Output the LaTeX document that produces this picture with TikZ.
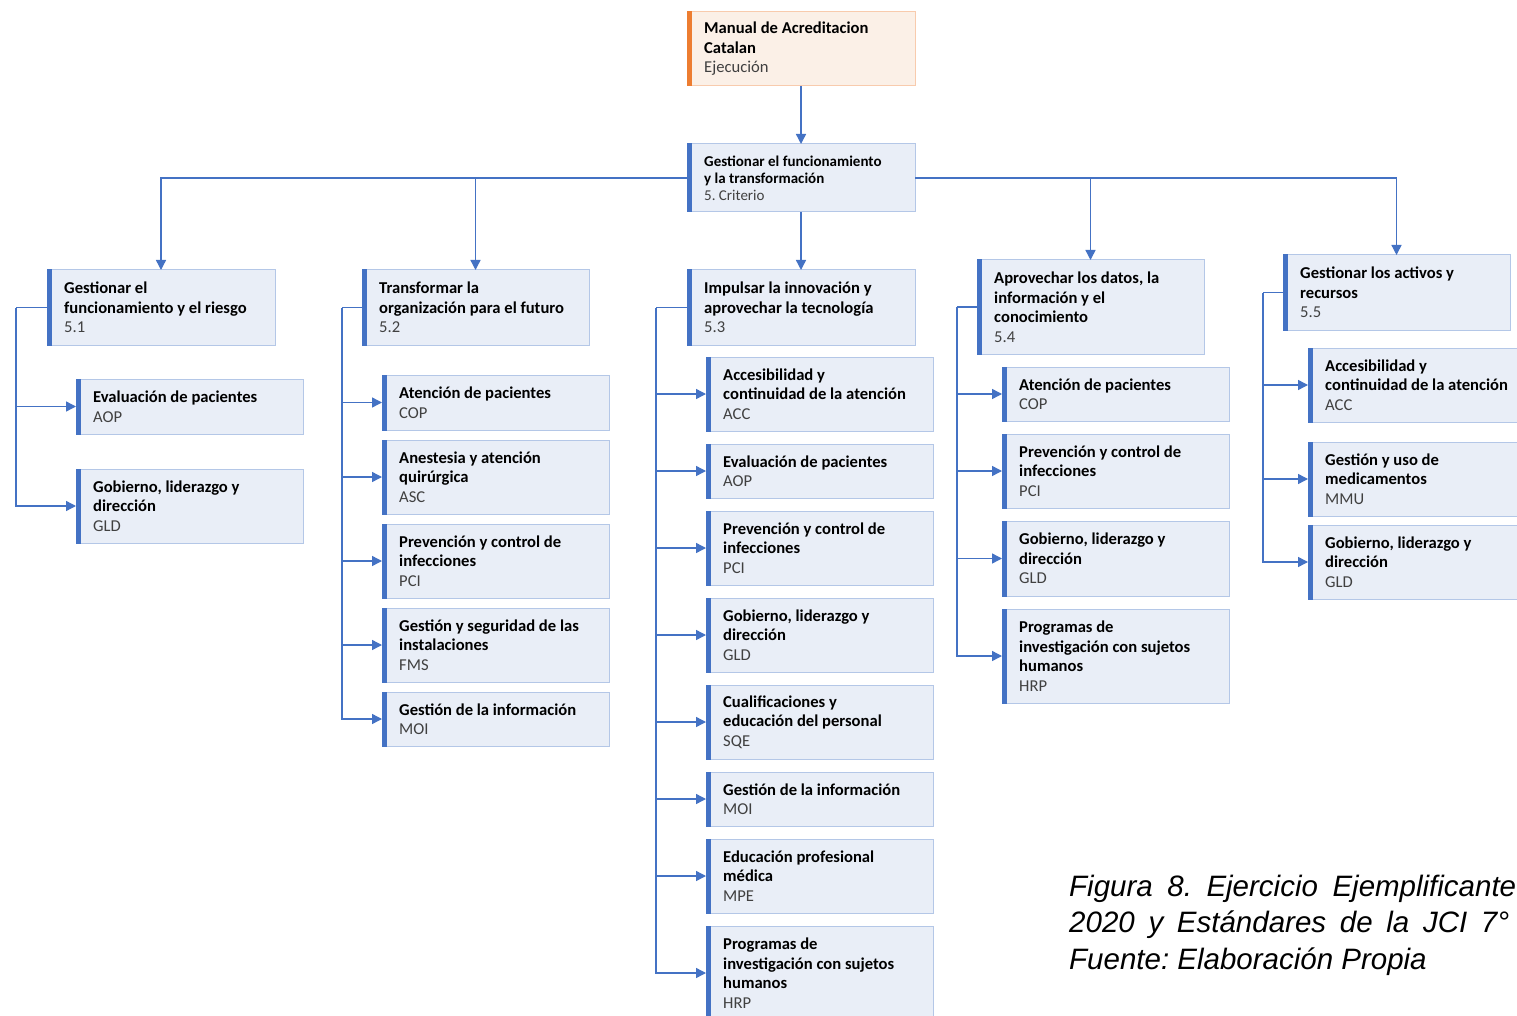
\documentclass[tikz,border=0pt]{standalone}
\usepackage{fontspec}
\setmainfont{Carlito}
\newfontfamily\capfont{Liberation Sans}
\usetikzlibrary{arrows.meta}
\definecolor{accent}{HTML}{4472C4}
\definecolor{boxfill}{HTML}{E9EEF7}
\definecolor{boxline}{HTML}{B4C7E7}
\definecolor{orgaccent}{HTML}{ED7D31}
\definecolor{orgfill}{HTML}{FBF0E7}
\definecolor{orgline}{HTML}{F8CBAD}
\definecolor{codegray}{HTML}{404040}
\frenchspacing

\tikzset{
  unitbox/.style={draw=boxline, fill=boxfill, line width=1pt, anchor=north west,
    inner sep=0pt, outer sep=0pt},
  boxtext/.style={anchor=west, align=left, inner sep=0pt, text=black,
    font=\bfseries\fontsize{16.6}{19.5}\selectfont},
  smalltext/.style={boxtext, font=\bfseries\fontsize{15}{17}\selectfont},
  conn/.style={draw=accent, line width=1.4pt, -{Triangle[length=10pt,width=10pt]}},
  trunk/.style={draw=accent, line width=1.4pt},
  capt/.style={anchor=north west, align=left, inner sep=0pt,
    font=\capfont\itshape\fontsize{29.5}{36.3}\selectfont}
}

% \orgbox{name}{x}{y}{width}{height}{title lines}{code}
\newcommand\orgbox[7]{%
  \node[unitbox, minimum width=#4pt, minimum height=#5pt] (#1) at (#2,#3) {};
  \fill[accent] ([yshift=0.5pt]#1.north west) rectangle ([xshift=5pt,yshift=-0.5pt]#1.south west);
  \node[boxtext] (#1-t) at ([xshift=17pt]#1.west) {#6\\{\mdseries\color{codegray}#7}};
}

\begin{document}
\begin{tikzpicture}[x=1pt,y=-1pt]
\fill[white] (0,0) rectangle (1517,1016);
\useasboundingbox (0,0) rectangle (1517,1016);

% root
\node[unitbox, draw=orgline, fill=orgfill, minimum width=228pt, minimum height=74pt] (root) at (687,12) {};
\fill[orgaccent] ([yshift=0.5pt]root.north west) rectangle ([xshift=5pt,yshift=-0.5pt]root.south west);
\node[boxtext] (root-t) at ([xshift=17pt]root.west) {Manual de Acreditacion\\Catalan\\{\mdseries\color{codegray}Ejecución}};

% criterion
\node[unitbox, minimum width=228pt, minimum height=68pt] (crit) at (687,144) {};
\fill[accent] ([yshift=0.5pt]crit.north west) rectangle ([xshift=5pt,yshift=-0.5pt]crit.south west);
\node[smalltext] (crit-t) at ([xshift=17pt]crit.west) {Gestionar el funcionamiento\\y la transformación\\{\mdseries\color{codegray}5. Criterio}};

% sub-criteria
\orgbox{n51}{47}{270}{228}{75}{Gestionar el\\funcionamiento y el riesgo}{5.1}
\orgbox{n52}{362}{270}{227}{75}{Transformar la\\organización para el futuro}{5.2}
\orgbox{n53}{687}{270}{228}{75}{Impulsar la innovación y\\aprovechar la tecnología}{5.3}
\orgbox{n54}{977}{260}{227}{94}{Aprovechar los datos, la\\información y el\\conocimiento}{5.4}
\orgbox{n55}{1283}{255}{227}{75}{Gestionar los activos y\\recursos}{5.5}

% standards under 5.1
\orgbox{a1}{76}{379}{227}{55}{Evaluación de pacientes}{AOP}
\orgbox{a2}{76}{469}{227}{74}{Gobierno, liderazgo y\\dirección}{GLD}

% standards under 5.2
\orgbox{b1}{382}{375}{227}{55}{Atención de pacientes}{COP}
\orgbox{b2}{382}{440}{227}{74}{Anestesia y atención\\quirúrgica}{ASC}
\orgbox{b3}{382}{524}{227}{74}{Prevención y control de\\infecciones}{PCI}
\orgbox{b4}{382}{608}{227}{74}{Gestión y seguridad de las\\instalaciones}{FMS}
\orgbox{b5}{382}{692}{227}{54}{Gestión de la información}{MOI}

% standards under 5.3
\orgbox{c1}{706}{357}{227}{74}{Accesibilidad y\\continuidad de la atención}{ACC}
\orgbox{c2}{706}{444}{227}{54}{Evaluación de pacientes}{AOP}
\orgbox{c3}{706}{511}{227}{74}{Prevención y control de\\infecciones}{PCI}
\orgbox{c4}{706}{598}{227}{74}{Gobierno, liderazgo y\\dirección}{GLD}
\orgbox{c5}{706}{685}{227}{74}{Cualificaciones y\\educación del personal}{SQE}
\orgbox{c6}{706}{772}{227}{54}{Gestión de la información}{MOI}
\orgbox{c7}{706}{839}{227}{74}{Educación profesional\\médica}{MPE}
\orgbox{c8}{706}{926}{227}{94}{Programas de\\investigación con sujetos\\humanos}{HRP}

% standards under 5.4
\orgbox{d1}{1002}{367}{227}{54}{Atención de pacientes}{COP}
\orgbox{d2}{1002}{434}{227}{74}{Prevención y control de\\infecciones}{PCI}
\orgbox{d3}{1002}{521}{227}{75}{Gobierno, liderazgo y\\dirección}{GLD}
\orgbox{d4}{1002}{609}{227}{94}{Programas de\\investigación con sujetos\\humanos}{HRP}

% standards under 5.5
\orgbox{e1}{1308}{348}{228}{74}{Accesibilidad y\\continuidad de la atención}{ACC}
\orgbox{e2}{1308}{442}{228}{74}{Gestión y uso de\\medicamentos}{MMU}
\orgbox{e3}{1308}{525}{228}{74}{Gobierno, liderazgo y\\dirección}{GLD}

% top-level connectors
\draw[conn] (root.south) -- (crit.north);
\draw[conn] (crit.west) -| (n51.north);
\draw[conn] (crit.west) -| (n52.north);
\draw[conn] (crit.south) -- (n53.north);
\draw[conn] (crit.east) -| (n54.north);
\draw[conn] (crit.east) -| (n55.north);

% trunks on the left of each sub-criterion
\coordinate (t51) at ([xshift=-31pt]n51.west);
\coordinate (t52) at ([xshift=-20pt]n52.west);
\coordinate (t53) at ([xshift=-31pt]n53.west);
\coordinate (t54) at ([xshift=-20pt]n54.west);
\coordinate (t55) at ([xshift=-20pt]n55.west);
\draw[trunk] (n51.west) -- (t51);
\draw[trunk] (n52.west) -- (t52);
\draw[trunk] (n53.west) -- (t53);
\draw[trunk] (n54.west) -- (t54);
\draw[trunk] (n55.west) -- (t55);

\foreach \c in {a1,a2} \draw[conn] (t51) |- (\c.west);
\foreach \c in {b1,b2,b3,b4,b5} \draw[conn] (t52) |- (\c.west);
\foreach \c in {c1,c2,c3,c4,c5,c6,c7,c8} \draw[conn] (t53) |- (\c.west);
\foreach \c in {d1,d2,d3,d4} \draw[conn] (t54) |- (\c.west);
\foreach \c in {e1,e2,e3} \draw[conn] (t55) |- (\c.west);

% caption (justified lines)
\node[capt] (caption) at (1069,875) {\hbox to 447pt{Figura 8. Ejercicio Ejemplificante}\\\hbox to 440pt{2020 y Estándares de la JCI 7°}\\Fuente: Elaboración Propia};
\end{tikzpicture}
\end{document}
